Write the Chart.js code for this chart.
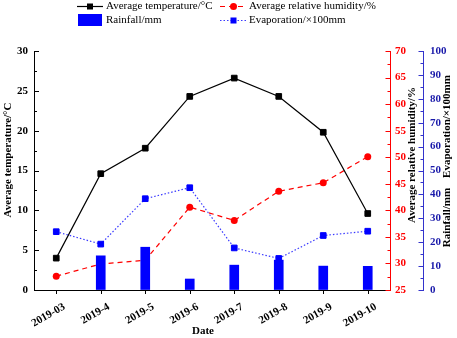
<!DOCTYPE html>
<html><head><meta charset="utf-8">
<script src="https://cdn.jsdelivr.net/npm/chart.js@4/dist/chart.umd.min.js"></script>
<style>html,body{margin:0;padding:0;background:#fff;overflow:hidden}</style>
</head><body>
<canvas id="c" width="457" height="338"></canvas>
<script>
const categories = ['2019-03','2019-4','2019-5','2019-6','2019-7','2019-8','2019-9','2019-10'];
const temperature = [4.0, 14.6, 17.8, 24.3, 26.6, 24.3, 19.8, 9.6];
const humidity = [27.6, 29.9, 30.6, 40.6, 38.1, 43.6, 45.2, 50.1];
const evaporation = [24.4, 19.2, 38.2, 42.8, 17.6, 13.2, 22.8, 24.6];
const rainfall = [null, 14.3, 17.9, 4.6, 10.4, 12.5, 10.0, 9.9];

const seriesNames = ['Average temperature/°C','Average relative humidity/%','Rainfall/mm','Evaporation/×100mm'];
const xTitle = 'Date';
const FONT = '"Liberation Serif", "Times New Roman", serif';
const RED = '#ff0000', BLUE = '#0000ff', BLUEAX = '#3333cc', BLUETXT = '#1a1aaa';

const decor = {
  id: 'decor',
  afterDraw(chart) {
    const ctx = chart.ctx;
    const {x, y, y1, y2} = chart.scales;
    ctx.save();
    function vTicks(scale, xEdge, dir, major, minorStep, color) {
      ctx.strokeStyle = color; ctx.lineWidth = 1;
      ctx.beginPath();
      const n = Math.round((scale.max - scale.min) / minorStep);
      for (let k = 0; k <= n; k++) {
        const v = scale.min + k * minorStep;
        const r = (v - scale.min) / major;
        const isMajor = Math.abs(r - Math.round(r)) < 1e-6;
        const py = Math.round(scale.getPixelForValue(v)) + 0.5;
        const len = isMajor ? 5 : 3;
        ctx.moveTo(xEdge, py); ctx.lineTo(xEdge + dir * len, py);
      }
      ctx.stroke();
    }
    vTicks(y, y.right, 1, 5, 2.5, '#000');
    vTicks(y1, y1.left + 0.5, -1, 5, 2.5, RED);
    vTicks(y2, y2.left + 0.5, -1, 10, 5, BLUEAX);
    // x ticks
    ctx.strokeStyle = '#000'; ctx.beginPath();
    categories.forEach((c, i) => {
      const px = Math.round(x.getPixelForValue(i)) + 0.5;
      ctx.moveTo(px, x.top); ctx.lineTo(px, x.top + 4);
    });
    ctx.stroke();
    // x labels
    ctx.fillStyle = '#000';
    ctx.font = 'bold 11px ' + FONT;
    categories.forEach((c, i) => {
      const px = x.getPixelForValue(i);
      ctx.save(); ctx.translate(px + 8, 306); ctx.rotate(-Math.PI / 6);
      ctx.textAlign = 'right'; ctx.textBaseline = 'middle';
      ctx.fillText(c, 0, 0); ctx.restore();
    });
    ctx.textAlign = 'center'; ctx.textBaseline = 'middle';
    ctx.fillText(xTitle, 203, 331);
    function vText(t, cx, cy) {
      ctx.save(); ctx.translate(cx, cy); ctx.rotate(-Math.PI / 2);
      ctx.textAlign = 'center'; ctx.textBaseline = 'middle';
      ctx.fillText(t, 0, 0); ctx.restore();
    }
    vText(seriesNames[0], 8, 160);
    vText(seriesNames[1], 412, 155);
    vText(seriesNames[2], 447, 217.5);
    vText(seriesNames[3], 447, 126.5);
    // legend
    ctx.font = '11px ' + FONT;
    ctx.textAlign = 'left'; ctx.textBaseline = 'middle';
    const r1 = 6.5, r2 = 20.5;
    ctx.strokeStyle = '#000'; ctx.lineWidth = 1.2; ctx.setLineDash([]);
    ctx.beginPath(); ctx.moveTo(77, r1); ctx.lineTo(103, r1); ctx.stroke();
    ctx.fillStyle = '#000'; ctx.fillRect(87, r1 - 3, 6, 6);
    ctx.fillText(seriesNames[0], 106, r1);
    ctx.strokeStyle = RED; ctx.setLineDash([5, 4]);
    ctx.beginPath(); ctx.moveTo(220, r1); ctx.lineTo(247, r1); ctx.stroke();
    ctx.setLineDash([]);
    ctx.fillStyle = RED; ctx.beginPath(); ctx.arc(233.5, r1, 3.5, 0, Math.PI * 2); ctx.fill();
    ctx.fillStyle = '#000'; ctx.fillText(seriesNames[1], 249, r1);
    ctx.fillStyle = BLUE; ctx.fillRect(78, 14, 24, 12);
    ctx.fillStyle = '#000'; ctx.fillText(seriesNames[2], 106, r2);
    ctx.strokeStyle = '#3a3aff'; ctx.setLineDash([1.5, 2]);
    ctx.beginPath(); ctx.moveTo(220, r2); ctx.lineTo(247, r2); ctx.stroke();
    ctx.setLineDash([]);
    ctx.fillStyle = BLUE; ctx.fillRect(230.5, r2 - 3, 6, 6);
    ctx.fillStyle = '#000'; ctx.fillText(seriesNames[3], 249, r2);
    ctx.restore();
  }
};

const tickFont = {family: FONT, size: 11, weight: 'bold'};

new Chart(document.getElementById('c'), {
  type: 'bar',
  data: {
    labels: categories,
    datasets: [
      {type: 'bar', label: seriesNames[2], data: rainfall, yAxisID: 'y2', backgroundColor: BLUE, barThickness: 9, order: 0},
      {type: 'line', label: seriesNames[0], data: temperature, yAxisID: 'y', borderColor: '#000', borderWidth: 1.2,
        pointStyle: 'rect', pointRadius: 4, pointBackgroundColor: '#000', pointBorderColor: '#000', pointBorderWidth: 1, tension: 0, order: 1},
      {type: 'line', label: seriesNames[1], data: humidity, yAxisID: 'y1', borderColor: RED, borderWidth: 1.2, borderDash: [5, 4],
        pointStyle: 'circle', pointRadius: 3.5, pointBackgroundColor: RED, pointBorderColor: RED, pointBorderWidth: 0, tension: 0, order: 2},
      {type: 'line', label: seriesNames[3], data: evaporation, yAxisID: 'y2', borderColor: '#3a3aff', borderWidth: 1.2, borderDash: [1.5, 2],
        pointStyle: 'rect', pointRadius: 4, pointBackgroundColor: BLUE, pointBorderColor: BLUE, pointBorderWidth: 1, tension: 0, order: 3}
    ]
  },
  options: {
    responsive: false,
    animation: false,
    layout: {padding: {top: 51, left: 0, right: 0, bottom: 0}},
    plugins: {legend: {display: false}, tooltip: {enabled: false}},
    scales: {
      x: {type: 'category', offset: true,
        grid: {display: true, drawOnChartArea: false, drawTicks: false},
        border: {color: '#000', width: 1},
        ticks: {display: false},
        afterFit(s) { s.height = 48; }},
      y: {position: 'left', min: 0, max: 30,
        ticks: {stepSize: 5, font: tickFont, color: '#000', padding: 6},
        grid: {drawOnChartArea: false, drawTicks: false},
        border: {color: '#000', width: 1},
        afterFit(s) { s.width = 34; }},
      y1: {position: 'right', min: 25, max: 70,
        ticks: {stepSize: 5, font: tickFont, color: RED, padding: 5},
        grid: {drawOnChartArea: false, drawTicks: false},
        border: {color: RED, width: 1},
        afterFit(s) { s.width = 33; }},
      y2: {position: 'right', min: 0, max: 100,
        ticks: {stepSize: 10, font: tickFont, color: BLUETXT, padding: 7},
        grid: {drawOnChartArea: false, drawTicks: false},
        border: {color: BLUEAX, width: 1},
        afterFit(s) { s.width = 34; }}
    }
  },
  plugins: [decor]
});
</script>
</body></html>
